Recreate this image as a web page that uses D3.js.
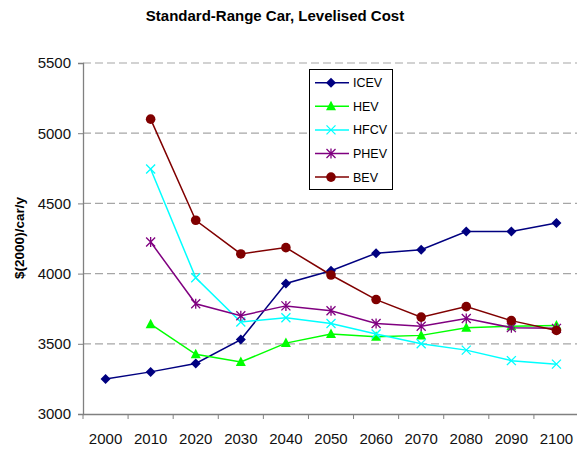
<!DOCTYPE html>
<html>
<head>
<meta charset="utf-8">
<script src="https://cdn.jsdelivr.net/npm/d3@7"></script>
<style>
  body { margin: 0; background: #fff; }
  svg { font-family: "Liberation Sans", Arial, sans-serif; }
</style>
</head>
<body>
<svg width="577" height="450"></svg>
<script>
// chart data
const years = ["2000", "2010", "2020", "2030", "2040", "2050", "2060", "2070", "2080", "2090", "2100"];
const yTicks = [3000, 3500, 4000, 4500, 5000, 5500];

const icev = [3250, 3300, 3360, 3530, 3930, 4020, 4145, 4170, 4300, 4300, 4360];
const hev  = [null, 3640, 3425, 3370, 3505, 3570, 3550, 3560, 3615, 3625, 3630];
const hfcv = [null, 4745, 3970, 3655, 3685, 3645, 3570, 3500, 3455, 3380, 3355];
const phev = [null, 4225, 3785, 3700, 3770, 3735, 3645, 3625, 3680, 3615, 3610];
const bev  = [null, 5100, 4380, 4140, 4185, 3990, 3815, 3690, 3765, 3665, 3595];

const series = [
  { name: "ICEV", values: icev, color: "#000080", marker: "diamond" },
  { name: "HEV",  values: hev,  color: "#00ff00", marker: "triangle" },
  { name: "HFCV", values: hfcv, color: "#00ffff", marker: "x" },
  { name: "PHEV", values: phev, color: "#800080", marker: "star" },
  { name: "BEV",  values: bev,  color: "#800000", marker: "circle" }
];

const svg = d3.select('svg');
const margin = { left: 83, top: 63, right: 579, bottom: 414 };

const x = d3.scaleBand()
  .domain(years)
  .range([margin.left, margin.right]);

const y = d3.scaleLinear()
  .domain([3000, 5500])
  .range([margin.bottom, margin.top]);

// title
svg.append('text')
  .attr('x', 275)
  .attr('y', 21)
  .attr('text-anchor', 'middle')
  .attr('font-size', 15)
  .attr('font-weight', 'bold')
  .text('Standard-Range Car, Levelised Cost');

// gridlines
svg.append('g')
  .selectAll('line')
  .data(yTicks.filter(d => d > 3000))
  .enter()
  .append('line')
  .attr('x1', margin.left)
  .attr('x2', margin.right)
  .attr('y1', d => y(d))
  .attr('y2', d => y(d))
  .attr('stroke', '#a6a6a6')
  .attr('stroke-width', 1.2)
  .attr('stroke-dasharray', '8,4');

// y axis
const yAxis = svg.append('g')
  .attr('transform', `translate(${margin.left},0)`)
  .call(d3.axisLeft(y).tickValues(yTicks).tickSize(5).tickPadding(7).tickFormat(d3.format('d')));
yAxis.select('.domain').attr('stroke', '#808080').attr('stroke-width', 1.3);
yAxis.selectAll('.tick line').attr('stroke', '#808080');
yAxis.selectAll('text').attr('font-size', 15).attr('fill', '#111')
  .attr('font-family', '"Liberation Sans", Arial, sans-serif');

// x axis, ticks between categories
const xAxis = svg.append('g')
  .attr('transform', `translate(0,${margin.bottom})`)
  .call(d3.axisBottom(x).tickSize(0).tickPadding(19));
xAxis.select('.domain').attr('stroke', '#808080').attr('stroke-width', 1.3);
xAxis.selectAll('text').attr('font-size', 15).attr('fill', '#111')
  .attr('font-family', '"Liberation Sans", Arial, sans-serif');
xAxis.append('g')
  .selectAll('line')
  .data(years)
  .enter()
  .append('line')
  .attr('x1', d => x(d))
  .attr('x2', d => x(d))
  .attr('y1', 0)
  .attr('y2', 5)
  .attr('stroke', '#808080');

// y label
svg.append('text')
  .attr('transform', 'translate(24,238) rotate(-90)')
  .attr('text-anchor', 'middle')
  .attr('font-size', 13.5)
  .attr('font-weight', 'bold')
  .text('$(2000)/car/y');

function drawMarker(g, type, color) {
  if (type === 'diamond') {
    g.append('path').attr('d', 'M0,-5L5,0L0,5L-5,0Z').attr('fill', color);
  } else if (type === 'triangle') {
    g.append('path').attr('d', 'M0,-5.5L5,4L-5,4Z').attr('fill', color);
  } else if (type === 'x') {
    g.append('path').attr('d', 'M-4.5,-4.5L4.5,4.5M-4.5,4.5L4.5,-4.5')
      .attr('stroke', color).attr('stroke-width', 1.3).attr('fill', 'none');
  } else if (type === 'star') {
    g.append('path').attr('d', 'M-4.5,-4.5L4.5,4.5M-4.5,4.5L4.5,-4.5M0,-5L0,5')
      .attr('stroke', color).attr('stroke-width', 1.3).attr('fill', 'none');
  } else {
    g.append('circle').attr('r', 4.8).attr('fill', color);
  }
}

const line = d3.line()
  .defined(d => d.v !== null)
  .x(d => x(d.year) + x.bandwidth() / 2)
  .y(d => y(d.v));

series.forEach(s => {
  const pts = years.map((yr, i) => ({ year: yr, v: s.values[i] }));
  const g = svg.append('g');
  g.append('path')
    .datum(pts)
    .attr('fill', 'none')
    .attr('stroke', s.color)
    .attr('stroke-width', 1.5)
    .attr('d', line);
  g.selectAll('g')
    .data(pts.filter(d => d.v !== null))
    .enter()
    .append('g')
    .attr('transform', d => `translate(${x(d.year) + x.bandwidth() / 2},${y(d.v)})`)
    .each(function () { drawMarker(d3.select(this), s.marker, s.color); });
});

// legend
const legend = svg.append('g');
legend.append('rect')
  .attr('x', 309.5)
  .attr('y', 69.5)
  .attr('width', 83)
  .attr('height', 120)
  .attr('fill', '#fff')
  .attr('stroke', '#000')
  .attr('stroke-width', 1);

const item = legend.selectAll('g')
  .data(series)
  .enter()
  .append('g')
  .attr('transform', (d, i) => `translate(0,${82.7 + i * 23.6})`);
item.append('line')
  .attr('x1', 315).attr('x2', 349)
  .attr('stroke', d => d.color)
  .attr('stroke-width', 1.5);
item.append('g')
  .attr('transform', 'translate(331,0)')
  .each(function (d) { drawMarker(d3.select(this), d.marker, d.color); });
item.append('text')
  .attr('x', 353)
  .attr('y', 4.5)
  .attr('font-size', 12.5)
  .text(d => d.name);
</script>
</body>
</html>
